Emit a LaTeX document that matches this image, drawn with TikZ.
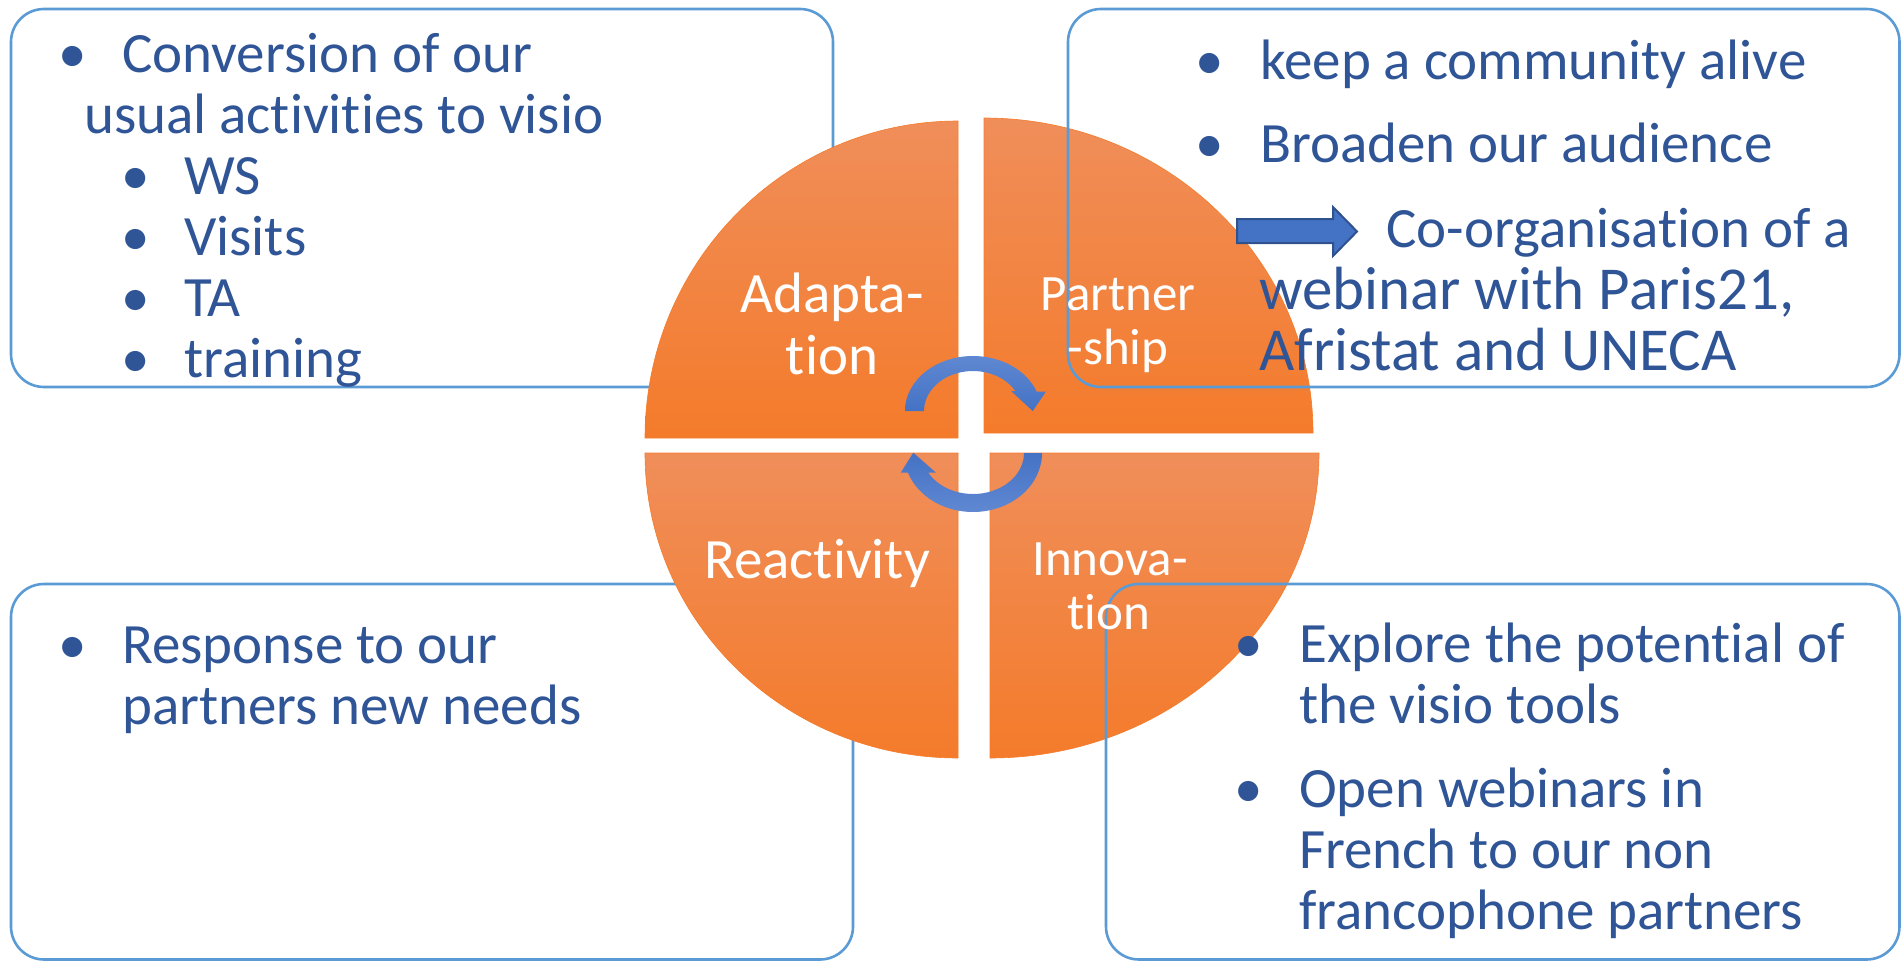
\documentclass[tikz,border=0pt]{standalone}
\usepackage{fontspec}
\setmainfont{Carlito}[Ligatures=NoCommon]
\definecolor{boxblue}{HTML}{5B9BD5}
\definecolor{txtblue}{HTML}{2F5597}
\definecolor{arrowblue}{HTML}{4472C4}
\definecolor{arrowlight}{HTML}{6088D2}
\definecolor{arrowedge}{HTML}{2F528F}
\definecolor{orangetop}{HTML}{F08E5A}
\definecolor{orangebot}{HTML}{F47B2B}
\newcommand{\piefont}{\fontsize{57}{61}\selectfont}
\newcommand{\piesmall}{\fontsize{51}{54}\selectfont}
\newcommand{\cardfont}{\fontsize{57}{61}\selectfont}
\newcommand{\cardlarge}{\fontsize{61}{61}\selectfont}
\tikzset{
  card/.style={draw=boxblue, line width=2.6pt, rounded corners=33pt},
  quad/.style={top color=orangetop, bottom color=orangebot, draw=orangebot, line width=0.6pt},
  qlabel/.style={text=white, font=\piefont, anchor=base, inner sep=0pt},
  item/.style={text=txtblue, font=\cardfont, anchor=base west, inner sep=0pt},
  dot/.style={text=txtblue, font=\cardfont, anchor=base, inner sep=0pt}
}
\begin{document}
\begin{tikzpicture}[x=1pt, y=-1pt]
        \useasboundingbox (0,0) rectangle (1901,961);

            % boxes behind the pie
            \draw [card, fill=white] (11,9) rectangle (833,387);
            \draw [card] (11,584) rectangle (853,959.5);

            % the four quarters
            \coordinate (Q0) at (958,438);
            \coordinate (Q1) at (984,433);
            \coordinate (Q2) at (958,453);
            \coordinate (Q3) at (990,453);
      \draw [quad] (Q0) -- ++(-313,0) arc[start angle=180, end angle=270, x radius=313, y radius=317] -- cycle;
      \draw [quad] (Q1) -- ++(0,-315) arc[start angle=270, end angle=360, x radius=329, y radius=315] -- cycle;
      \draw [quad] (Q2) -- ++(0,305) arc[start angle=90, end angle=180, x radius=313, y radius=305] -- cycle;
      \draw [quad] (Q3) -- ++(329,0) arc[start angle=0, end angle=90, x radius=329, y radius=305] -- cycle;

      % circular arrows in the middle
      \shade [top color=arrowlight, bottom color=arrowblue] (905,411) arc[start angle=180, end angle=339.5, x radius=68, y radius=55]
            -- (1046,391.5) -- (1032.7,411) -- (1011,391) -- (1015.4,391)
            arc[start angle=330, end angle=180, x radius=49, y radius=40] -- cycle;
      \shade [top color=arrowblue, bottom color=arrowlight] (1042,453) arc[start angle=0, end angle=160.5, x radius=69, y radius=59]
            -- (900.7,472.7) -- (913.3,452.7) -- (936,472.7) -- (928.3,472.7)
            arc[start angle=151.3, end angle=0, x radius=51, y radius=41] -- cycle;

      % boxes over the pie
      \draw [card] (1068,9) rectangle (1899.5,387);
      \draw [card] (1106,584) rectangle (1899.5,959.5);

      \node [qlabel] (A1) at (832,312) {Adapta-};
      \node [qlabel] (A2) at (832,374) {tion};
      \node [qlabel, font=\piesmall] (P1) at (1118,310) {Partner};
      \node [qlabel, font=\piesmall] (P2) at (1118,364) {-ship};
      \node [qlabel] (R1) at (817,578) {Reactivity};
      \node [qlabel, font=\piesmall] (I1) at (1110,575) {Innova-};
      \node [qlabel, font=\piesmall] (I2) at (1109,629) {tion};

      % top left
      \node [dot] (b0) at (72.5,72) {\textbullet};
      \node [item] (t0) at (122,72) {Conversion of our};
      \node [item] (t1) at (84,133) {usual activities to visio};
      \node [dot] (b1) at (136,194) {\textbullet};
      \node [item] (t2) at (184,194) {WS};
      \node [dot] (b2) at (136,255) {\textbullet};
      \node [item] (t3) at (184,255) {Visits};
      \node [dot] (b3) at (136,316) {\textbullet};
      \node [item] (t4) at (184,316) {TA};
      \node [dot] (b4) at (136,377) {\textbullet};
      \node [item] (t5) at (184,377) {training};

      % top right
      \node [dot] (c0) at (1210,79) {\textbullet};
      \node [item] (u0) at (1260,79) {keep a community alive};
      \node [dot] (c1) at (1210,162) {\textbullet};
      \node [item] (u1) at (1260,162) {Broaden our audience};
      \draw [fill=arrowblue, draw=arrowedge, line width=2pt] (1237,219) -- (1333,219) -- (1333,207) -- (1357,231.5)
            -- (1333,256) -- (1333,243) -- (1237,243) -- cycle;
      \node [item] (u2) at (1386,247) {Co-organisation of a};
      \node [item, font=\cardlarge] (u3) at (1259,309) {webinar with Paris21,};
      \node [item, font=\cardlarge] (u4) at (1259,370) {Afristat and UNECA};

      % bottom left
      \node [dot] (d0) at (73,663) {\textbullet};
      \node [item] (v0) at (122,663) {Response to our};
      \node [item] (v1) at (122,724) {partners new needs};

      % bottom right
      \node [dot] (e0) at (1249,662) {\textbullet};
      \node [item] (w0) at (1299,662) {Explore the potential of};
      \node [item] (w1) at (1299,723) {the visio tools};
      \node [dot] (e1) at (1249,807) {\textbullet};
      \node [item] (w2) at (1299,807) {Open webinars in};
      \node [item] (w3) at (1299,868) {French to our non};
      \node [item] (w4) at (1299,929) {francophone partners};

      \end{tikzpicture}
\end{document}
